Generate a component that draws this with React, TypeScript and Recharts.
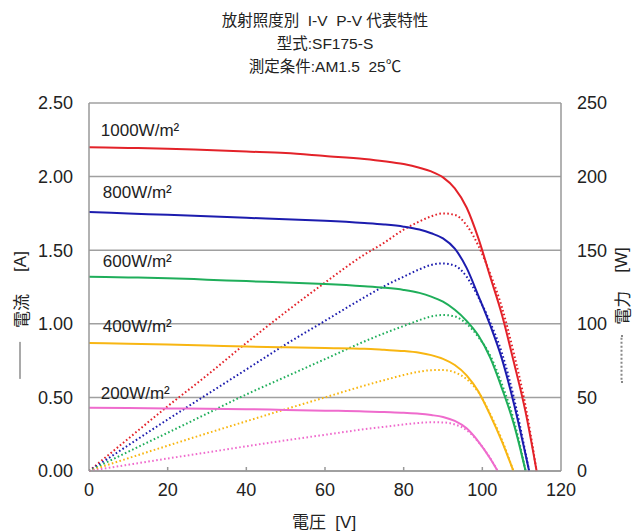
import React from 'react'
import { LineChart, Line, XAxis, YAxis, CartesianGrid, ReferenceDot } from 'recharts'

// voltage [V] / current [A] / power [W], one set per irradiance
const VOLT_1000 = [0, 10, 20, 30, 40, 50, 60, 70, 75, 80, 84, 87, 90, 93, 96, 99, 102, 105, 108, 111, 113.8]
const CURRENT_1000 = [2.2, 2.195, 2.19, 2.18, 2.17, 2.16, 2.14, 2.12, 2.105, 2.085, 2.06, 2.035, 1.995, 1.92, 1.79, 1.58, 1.32, 1.06, 0.74, 0.4, 0]
const POWER_1000 = [0, 22, 44, 65, 87, 108, 128, 147, 155, 164, 169.5, 173, 175, 174, 167, 153, 134, 111, 80, 44, 0]

const VOLT_800 = [0, 10, 20, 30, 40, 50, 60, 70, 75, 80, 84, 87, 90, 93, 96, 99, 102, 105, 108, 111, 111.9]
const CURRENT_800 = [1.76, 1.75, 1.74, 1.73, 1.72, 1.71, 1.7, 1.685, 1.675, 1.66, 1.64, 1.615, 1.58, 1.51, 1.38, 1.19, 0.99, 0.76, 0.46, 0.11, 0]
const POWER_800 = [0, 17.5, 35, 52, 69, 86, 102, 118, 125.5, 132, 137, 140, 141, 139.5, 132, 118, 101, 80, 50, 12, 0]

const VOLT_600 = [0, 10, 20, 30, 40, 50, 60, 70, 75, 80, 84, 87, 90, 93, 96, 99, 102, 105, 108, 111]
const CURRENT_600 = [1.32, 1.315, 1.31, 1.3, 1.29, 1.28, 1.27, 1.255, 1.245, 1.23, 1.21, 1.185, 1.15, 1.095, 1.02, 0.92, 0.77, 0.56, 0.32, 0]
const POWER_600 = [0, 13.1, 26, 39, 52, 64, 76, 88, 93.5, 98.5, 102.5, 105, 106, 105, 100, 91, 78.5, 58.8, 34.6, 0]

const VOLT_400 = [0, 10, 20, 30, 40, 50, 60, 70, 75, 80, 84, 87, 90, 93, 96, 99, 102, 105, 107.9]
const CURRENT_400 = [0.87, 0.865, 0.86, 0.853, 0.845, 0.84, 0.835, 0.83, 0.823, 0.815, 0.803, 0.787, 0.762, 0.72, 0.65, 0.54, 0.38, 0.2, 0]
const POWER_400 = [0, 8.7, 17.2, 25.6, 33.8, 42, 50, 58, 61.7, 65.2, 67.5, 68.5, 68.6, 67, 62.4, 53.5, 38.8, 21, 0]

const VOLT_200 = [0, 10, 20, 30, 40, 50, 60, 70, 75, 80, 84, 87, 90, 93, 96, 99, 102, 103.9]
const CURRENT_200 = [0.43, 0.428, 0.425, 0.423, 0.42, 0.415, 0.41, 0.405, 0.4, 0.395, 0.389, 0.38, 0.367, 0.34, 0.29, 0.2, 0.085, 0]
const POWER_200 = [0, 4.3, 8.5, 12.6, 16.8, 20.8, 24.6, 28.4, 30, 31.6, 32.7, 33.1, 33, 31.6, 27.8, 19.8, 8.7, 0]

const IRRADIANCE = ['1000W/m²', '800W/m²', '600W/m²', '400W/m²', '200W/m²']
const LABEL_POS = [[3, 2.32], [3.5, 1.895], [3.5, 1.43], [3.5, 0.985], [3, 0.53]]
const COLORS = ['#e32229', '#1c1cae', '#1fae5a', '#f8b612', '#ef6bcd']

const X_TICKS = [0, 20, 40, 60, 80, 100, 120]
const I_TICKS = [0, 0.5, 1, 1.5, 2, 2.5]
const P_TICKS = [0, 50, 100, 150, 200, 250]

const FONT = '"Liberation Sans", Arial, "Noto Sans CJK JP", sans-serif'

const build = (v: number[], i: number[], p: number[]) => v.map((x, k) => ({ v: x, i: i[k], p: p[k] }))

const SERIES = [
  build(VOLT_1000, CURRENT_1000, POWER_1000),
  build(VOLT_800, CURRENT_800, POWER_800),
  build(VOLT_600, CURRENT_600, POWER_600),
  build(VOLT_400, CURRENT_400, POWER_400),
  build(VOLT_200, CURRENT_200, POWER_200),
]

const XTick = ({ x, y, payload }: any) => (
  <g>
    {payload.value > 0 && payload.value < 120 && (
      <line x1={x} x2={x} y1={y} y2={y - 4} stroke="#999" strokeWidth={1.5} />
    )}
    <text x={x} y={y + 25} textAnchor="middle" fontSize={18} fill="#222" fontFamily={FONT}>
      {payload.value}
    </text>
  </g>
)

export default function App() {
  return (
    <div style={{ position: 'absolute', left: 0, top: 0, width: 633, height: 531, background: '#fff', fontFamily: FONT, color: '#222' }}>
      <div style={{ position: 'absolute', left: 0, width: 650, top: 10, fontSize: 15.5, lineHeight: '22px', textAlign: 'center' }}>
        <div>放射照度別 &nbsp;I-V &nbsp;P-V 代表特性</div>
        <div style={{ marginTop: 1 }}>型式:SF175-S</div>
        <div style={{ marginTop: 1 }}>測定条件:AM1.5 &nbsp;25℃</div>
      </div>

      <LineChart width={633} height={531} margin={{ top: 103, left: 88, right: 71, bottom: 59 }}>
        <CartesianGrid yAxisId="left" vertical={false} stroke="#a0a0a0" strokeWidth={1.5} />
        <XAxis
          dataKey="v"
          type="number"
          domain={[0, 120]}
          ticks={X_TICKS}
          height={1}
          tickSize={0}
          tickMargin={0}
          tickLine={false}
          axisLine={{ stroke: '#999', strokeWidth: 1.5 }}
          tick={<XTick />}
          interval={0}
          allowDataOverflow
        />
        <YAxis
          yAxisId="left"
          domain={[0, 2.5]}
          ticks={I_TICKS}
          width={1}
          tickSize={0}
          tickMargin={16}
          tickLine={false}
          interval={0}
          axisLine={{ stroke: '#999', strokeWidth: 1.5 }}
          tickFormatter={(t: number) => t.toFixed(2)}
          tick={{ fontSize: 18, fill: '#222', fontFamily: FONT }}
        />
        <YAxis
          yAxisId="right"
          orientation="right"
          domain={[0, 250]}
          ticks={P_TICKS}
          width={1}
          tickSize={0}
          tickMargin={16}
          tickLine={false}
          interval={0}
          axisLine={{ stroke: '#999', strokeWidth: 1.5 }}
          tick={{ fontSize: 18, fill: '#222', fontFamily: FONT }}
        />
        {SERIES.map((pts, k) => (
          <Line
            key={`p-${k}`}
            data={pts}
            dataKey="p"
            yAxisId="right"
            type="monotone"
            stroke={COLORS[k]}
            strokeWidth={2}
            strokeDasharray="1.6 2.4"
            dot={false}
            activeDot={false}
            isAnimationActive={false}
          />
        ))}
        {SERIES.map((pts, k) => (
          <Line
            key={`i-${k}`}
            data={pts}
            dataKey="i"
            yAxisId="left"
            type="monotone"
            stroke={COLORS[k]}
            strokeWidth={2}
            dot={false}
            activeDot={false}
            isAnimationActive={false}
          />
        ))}
        {IRRADIANCE.map((name, k) => (
          <ReferenceDot
            key={name}
            yAxisId="left"
            x={LABEL_POS[k][0]}
            y={LABEL_POS[k][1]}
            r={0}
            fill="none"
            stroke="none"
            label={{ value: name, position: 'right', offset: 0, fontSize: 17, fill: '#222', fontFamily: FONT }}
          />
        ))}
      </LineChart>

      {/* axis titles */}
      <div style={{ position: 'absolute', left: 324, top: 520, transform: 'translate(-50%, -50%)', fontSize: 17, whiteSpace: 'nowrap' }}>
        電圧 &nbsp;[V]
      </div>
      <div
        style={{
          position: 'absolute', left: 20, top: 315, transform: 'translate(-50%, -50%) rotate(-90deg)',
          fontSize: 17, whiteSpace: 'nowrap', display: 'flex', alignItems: 'center',
        }}
      >
        <span style={{ display: 'inline-block', width: 37, borderTop: '1.5px solid #555', marginRight: 14 }} />
        <span>電流</span>
        <span style={{ marginLeft: 22 }}>[A]</span>
      </div>
      <div
        style={{
          position: 'absolute', left: 621, top: 315, transform: 'translate(-50%, -50%) rotate(-90deg)',
          fontSize: 17, whiteSpace: 'nowrap', display: 'flex', alignItems: 'center',
        }}
      >
        <span style={{ display: 'inline-block', width: 48, borderTop: '2px dotted #888', marginRight: 10 }} />
        <span>電力</span>
        <span style={{ marginLeft: 18 }}>[W]</span>
      </div>
    </div>
  )
}
